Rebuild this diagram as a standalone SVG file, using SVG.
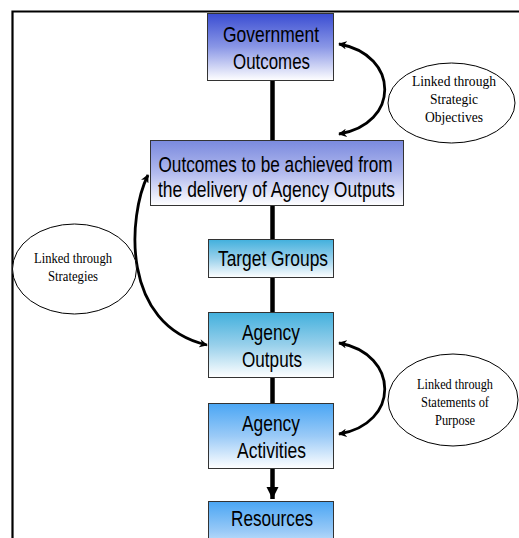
<svg xmlns="http://www.w3.org/2000/svg" width="519" height="538" viewBox="0 0 519 538">
<defs>
<linearGradient id="gGov" x1="0" y1="0" x2="0" y2="1"><stop offset="0" stop-color="#3a4dd2"/><stop offset="0.5" stop-color="#8a97e6"/><stop offset="1" stop-color="#ffffff"/></linearGradient>
<linearGradient id="gOut" x1="0" y1="0" x2="0" y2="1"><stop offset="0" stop-color="#7a8ade"/><stop offset="0.5" stop-color="#b2baee"/><stop offset="1" stop-color="#ffffff"/></linearGradient>
<linearGradient id="gCyan" x1="0" y1="0" x2="0" y2="1"><stop offset="0" stop-color="#42b0dd"/><stop offset="0.5" stop-color="#98d0eb"/><stop offset="1" stop-color="#ffffff"/></linearGradient>
<linearGradient id="gBlue" x1="0" y1="0" x2="0" y2="1"><stop offset="0" stop-color="#4aa6f4"/><stop offset="0.5" stop-color="#9acaf7"/><stop offset="1" stop-color="#ffffff"/></linearGradient>
<marker id="ah" viewBox="0 0 10 10" refX="9" refY="5" markerWidth="3" markerHeight="3" orient="auto-start-reverse" markerUnits="strokeWidth">
<path d="M0,0 L10,5 L0,10 L3,5 Z" fill="#000"/>
</marker>
<marker id="big" viewBox="0 0 10 10" refX="10" refY="5" markerWidth="2.7" markerHeight="2.7" orient="auto" markerUnits="strokeWidth">
<path d="M0,0 L10,5 L0,10 Z" fill="#000"/>
</marker>
</defs>
<style>
.box{stroke:#333;stroke-width:1}
.bt{font-family:"Liberation Sans",Arial,sans-serif;font-size:22px;fill:#000;text-anchor:middle}
.el{fill:#fff;stroke:#000;stroke-width:1}
.et{font-family:"Liberation Serif","Times New Roman",serif;font-size:14.5px;fill:#000;text-anchor:middle}
.conn{stroke:#000;stroke-width:4.5;fill:none}
.curve{stroke:#000;stroke-width:2.8;fill:none}
.frame{stroke:#000;stroke-width:2.2;fill:none}
</style>
<path class="frame" d="M12.5,538 V11.5 H519"/>
<g id="connectors">
<line class="conn" x1="272.5" y1="81" x2="272.5" y2="140"/>
<line class="conn" x1="272.5" y1="206" x2="272.5" y2="239"/>
<line class="conn" x1="272.5" y1="278" x2="272.5" y2="312"/>
<line class="conn" x1="272.5" y1="378" x2="272.5" y2="403"/>
<line class="conn" x1="272.5" y1="469" x2="272.5" y2="499" marker-end="url(#big)"/>
<path class="curve" d="M339,44 C400,55 400,124 339,134" marker-start="url(#ah)" marker-end="url(#ah)"/>
<path class="curve" d="M148,175 C128,215 120,325 207,345" marker-start="url(#ah)" marker-end="url(#ah)"/>
<path class="curve" d="M339,343 C400,354 400,424 339,434" marker-start="url(#ah)" marker-end="url(#ah)"/>
</g>
<g id="gov">
<rect class="box" x="207.5" y="13.5" width="126" height="67" fill="url(#gGov)"/>
<text class="bt" x="271" y="42" textLength="96" lengthAdjust="spacingAndGlyphs">Government</text>
<text class="bt" x="271.5" y="69" textLength="77" lengthAdjust="spacingAndGlyphs">Outcomes</text>
</g>
<g id="outcomes">
<rect class="box" x="150.5" y="140.5" width="253" height="65" fill="url(#gOut)"/>
<text class="bt" x="275.5" y="172" textLength="234" lengthAdjust="spacingAndGlyphs">Outcomes to be achieved from</text>
<text class="bt" x="276.5" y="197" textLength="237" lengthAdjust="spacingAndGlyphs">the delivery of Agency Outputs</text>
</g>
<g id="target">
<rect class="box" x="208.5" y="239.5" width="125" height="38" fill="url(#gCyan)"/>
<text class="bt" x="273" y="266" textLength="110" lengthAdjust="spacingAndGlyphs">Target Groups</text>
</g>
<g id="outputs">
<rect class="box" x="208.5" y="312.5" width="125" height="65" fill="url(#gCyan)"/>
<text class="bt" x="271" y="340" textLength="58" lengthAdjust="spacingAndGlyphs">Agency</text>
<text class="bt" x="272" y="367" textLength="60" lengthAdjust="spacingAndGlyphs">Outputs</text>
</g>
<g id="activities">
<rect class="box" x="208.5" y="403.5" width="125" height="65" fill="url(#gBlue)"/>
<text class="bt" x="271" y="431" textLength="58" lengthAdjust="spacingAndGlyphs">Agency</text>
<text class="bt" x="271.5" y="458" textLength="69" lengthAdjust="spacingAndGlyphs">Activities</text>
</g>
<g id="resources">
<rect class="box" x="208.5" y="501.5" width="125" height="60" fill="url(#gBlue)"/>
<text class="bt" x="272" y="526" textLength="82" lengthAdjust="spacingAndGlyphs">Resources</text>
</g>
<g id="strategic">
<ellipse class="el" cx="451.5" cy="103" rx="63.5" ry="40"/>
<text class="et" x="454" y="86" textLength="84" lengthAdjust="spacingAndGlyphs">Linked through</text>
<text class="et" x="454" y="104" textLength="48" lengthAdjust="spacingAndGlyphs">Strategic</text>
<text class="et" x="454" y="122" textLength="58" lengthAdjust="spacingAndGlyphs">Objectives</text>
</g>
<g id="strategies">
<ellipse class="el" cx="74.5" cy="269" rx="62" ry="45"/>
<text class="et" x="73" y="263" textLength="78" lengthAdjust="spacingAndGlyphs">Linked through</text>
<text class="et" x="73" y="281" textLength="50" lengthAdjust="spacingAndGlyphs">Strategies</text>
</g>
<g id="purpose">
<ellipse class="el" cx="453" cy="400" rx="65" ry="46"/>
<text class="et" x="455" y="389" textLength="76" lengthAdjust="spacingAndGlyphs">Linked through</text>
<text class="et" x="455" y="407" textLength="68" lengthAdjust="spacingAndGlyphs">Statements of</text>
<text class="et" x="455" y="425" textLength="40" lengthAdjust="spacingAndGlyphs">Purpose</text>
</g>
</svg>
